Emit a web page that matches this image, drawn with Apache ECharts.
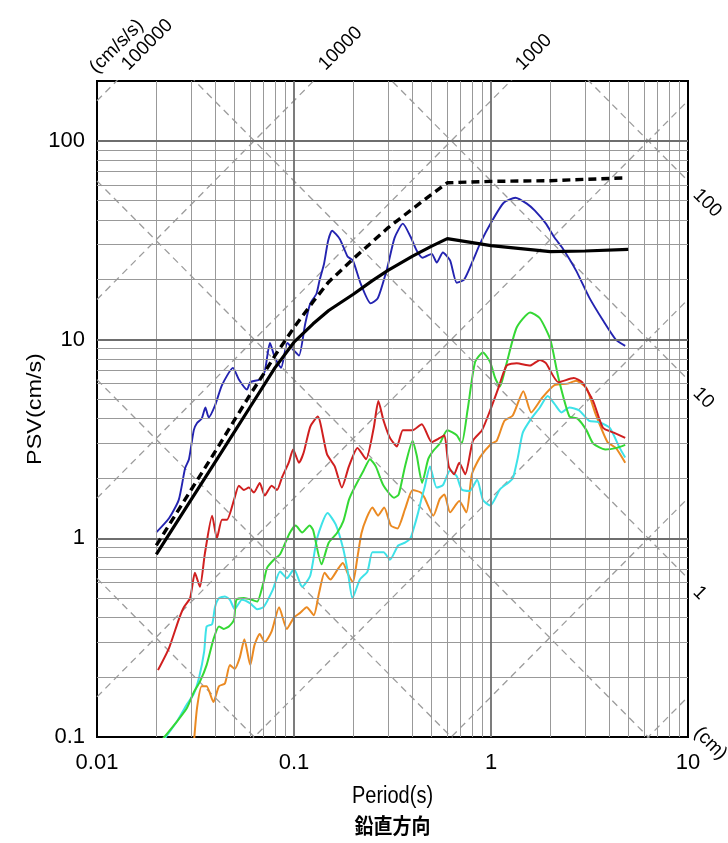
<!DOCTYPE html>
<html><head><meta charset="utf-8">
<script src="https://cdn.jsdelivr.net/npm/echarts@6/dist/echarts.min.js"></script>
<style>html,body{margin:0;padding:0;background:#fff}#c{width:728px;height:843px}</style>
</head><body><div id="c"></div><script>
// ---- axis ranges / tick labels ----
const periodRange = [0.01, 10];
const psvRange = [0.1, 200];
const xTickLabels = [0.01, 0.1, 1, 10];
const yTickLabels = [0.1, 1, 10, 100];
// tripartite reference lines
const dispLines = [0.001, 0.01, 0.1, 1, 10, 100];          // cm
const accLines = [0.1, 1, 10, 100, 1000, 10000, 100000];     // cm/s/s
const accLabels = [100000, 10000, 1000];
const dispLabels = [100, 10, 1];

// ---- series [period(s), PSV(cm/s)] ----
const designL2 = [[0.02,0.92],[0.03,1.75],[0.04,2.75],[0.05,3.95],[0.06,5.3],[0.07,6.7],[0.08,8.3],[0.1,11.5],[0.125,15.5],[0.15,19.5],[0.2,25.5],[0.3,36.5],[0.4,45.5],[0.5,53.8],[0.6,61.5],[1,62.5],[2,63],[3,64],[4.7,65]];
const designL1 = [[0.02,0.83],[0.03,1.56],[0.04,2.44],[0.05,3.45],[0.06,4.59],[0.08,7.2],[0.1,9.7],[0.125,12],[0.15,14],[0.2,16.9],[0.25,19.8],[0.3,22.3],[0.4,26.3],[0.5,29.5],[0.6,32.2],[1,29.7],[2,27.7],[3,27.9],[4.97,28.4]];
const blue = [[0.02,1.07],[0.0232,1.26],[0.026,1.56],[0.028,2.25],[0.0293,2.5],[0.031,3.5],[0.0322,3.8],[0.034,4.0],[0.0355,4.55],[0.0369,4.06],[0.0397,4.65],[0.0431,5.9],[0.049,7.2],[0.0525,6.3],[0.0577,5.6],[0.06,6.1],[0.067,6.3],[0.071,6.9],[0.0755,9.6],[0.08,8.1],[0.086,7.2],[0.0925,9.6],[0.1,8.8],[0.106,8.3],[0.114,12],[0.121,15.2],[0.13,17.0],[0.135,20],[0.142,24],[0.149,31.4],[0.156,35.3],[0.171,32],[0.187,26.2],[0.199,25],[0.218,19.1],[0.245,15.2],[0.266,16.1],[0.297,22.8],[0.324,32.5],[0.357,38.3],[0.39,33],[0.42,28],[0.45,25.8],[0.5,27],[0.53,24.4],[0.57,27.4],[0.62,25],[0.67,19.3],[0.73,20],[0.81,25],[0.88,30.4],[1.0,38.7],[1.16,48.8],[1.33,51.7],[1.52,48.3],[1.67,44.5],[1.9,38.3],[2.1,32.6],[2.3,29],[2.7,22.3],[3.15,16.3],[3.7,12.5],[4.3,10],[4.8,9.3]];
const red = [[0.0204,0.217],[0.0232,0.28],[0.026,0.39],[0.0276,0.45],[0.0297,0.5],[0.0314,0.67],[0.0333,0.57],[0.0353,0.84],[0.0384,1.3],[0.0406,1.0],[0.0431,1.24],[0.0457,1.24],[0.0496,1.56],[0.0525,1.84],[0.0557,1.75],[0.059,1.8],[0.0626,1.7],[0.067,1.9],[0.071,1.64],[0.077,1.84],[0.082,1.75],[0.087,2.03],[0.094,2.4],[0.099,2.8],[0.106,2.4],[0.112,2.7],[0.121,3.65],[0.132,4.1],[0.147,2.65],[0.161,2.3],[0.175,1.8],[0.19,2.3],[0.21,2.85],[0.232,2.5],[0.254,3.6],[0.268,4.9],[0.285,3.9],[0.307,3.2],[0.333,2.9],[0.357,3.5],[0.4,3.5],[0.445,3.75],[0.5,3.05],[0.55,3.2],[0.58,3.3],[0.61,2.3],[0.65,2.1],[0.69,2.4],[0.74,2.1],[0.81,3.1],[0.9,3.5],[0.99,4.4],[1.09,5.7],[1.2,7.4],[1.35,7.6],[1.58,7.4],[1.77,7.9],[1.9,7.6],[2.2,6.1],[2.63,6.4],[2.9,6.1],[3.3,4.9],[3.7,3.6],[4.2,3.4],[4.8,3.2]];
const green = [[0.0205,0.092],[0.0255,0.12],[0.0286,0.14],[0.031,0.168],[0.0333,0.19],[0.036,0.23],[0.039,0.31],[0.0416,0.36],[0.044,0.35],[0.0467,0.36],[0.0496,0.39],[0.051,0.49],[0.0557,0.5],[0.061,0.49],[0.065,0.48],[0.07,0.6],[0.073,0.71],[0.079,0.78],[0.085,0.83],[0.095,1.06],[0.102,1.16],[0.11,1.07],[0.12,1.16],[0.125,1.1],[0.138,0.74],[0.15,0.95],[0.165,1.06],[0.178,1.22],[0.19,1.56],[0.2,1.75],[0.226,2.2],[0.243,2.5],[0.26,2.3],[0.284,1.85],[0.322,1.6],[0.34,1.66],[0.366,2.3],[0.4,3.1],[0.42,2.6],[0.447,1.9],[0.48,2.5],[0.51,2.76],[0.55,3.0],[0.6,3.5],[0.67,3.3],[0.71,3.0],[0.76,4.4],[0.83,7.7],[0.91,8.6],[0.99,7.7],[1.05,6.4],[1.11,5.8],[1.2,7.6],[1.35,11.5],[1.58,13.7],[1.77,12.8],[2.0,10],[2.2,6.4],[2.5,4.1],[2.75,4.0],[3.05,3.5],[3.3,3.0],[3.8,2.8],[4.35,2.85],[4.8,2.95]];
const cyan = [[0.021,0.092],[0.0255,0.12],[0.0286,0.146],[0.031,0.165],[0.033,0.2],[0.035,0.27],[0.036,0.36],[0.0384,0.37],[0.0397,0.45],[0.0416,0.5],[0.0446,0.51],[0.0473,0.49],[0.05,0.44],[0.0544,0.49],[0.06,0.47],[0.065,0.44],[0.07,0.45],[0.078,0.55],[0.085,0.68],[0.092,0.63],[0.1,0.7],[0.11,0.57],[0.121,0.65],[0.131,1.0],[0.148,1.34],[0.163,1.17],[0.178,0.88],[0.188,0.67],[0.198,0.5],[0.216,0.62],[0.236,0.68],[0.25,0.85],[0.27,0.85],[0.285,0.85],[0.307,0.78],[0.338,0.92],[0.366,0.95],[0.39,1.0],[0.403,1.1],[0.427,1.35],[0.445,1.6],[0.46,1.8],[0.49,2.3],[0.53,1.8],[0.57,1.85],[0.62,2.2],[0.67,2.05],[0.71,1.76],[0.78,1.73],[0.85,1.97],[0.91,1.56],[0.99,1.46],[1.11,1.76],[1.22,1.9],[1.29,2.0],[1.37,2.56],[1.45,3.4],[1.6,4.0],[1.77,4.55],[1.94,5.2],[2.1,4.75],[2.28,4.3],[2.5,4.55],[2.8,4.4],[3.15,3.9],[3.5,3.85],[4.0,3.6],[4.5,2.85],[4.8,2.55]];
const orange = [[0.031,0.092],[0.0322,0.14],[0.034,0.18],[0.036,0.18],[0.039,0.15],[0.0416,0.18],[0.0446,0.186],[0.0473,0.23],[0.05,0.22],[0.053,0.25],[0.056,0.31],[0.06,0.23],[0.063,0.29],[0.067,0.33],[0.071,0.3],[0.077,0.34],[0.084,0.45],[0.092,0.35],[0.1,0.4],[0.107,0.42],[0.116,0.45],[0.126,0.41],[0.134,0.53],[0.143,0.67],[0.153,0.62],[0.167,0.7],[0.177,0.75],[0.188,0.66],[0.199,0.6],[0.209,0.78],[0.22,1.06],[0.234,1.27],[0.25,1.43],[0.267,1.3],[0.287,1.43],[0.31,1.16],[0.335,1.12],[0.366,1.4],[0.4,1.75],[0.44,1.7],[0.46,1.6],[0.51,1.3],[0.55,1.58],[0.58,1.66],[0.62,1.35],[0.69,1.54],[0.75,1.35],[0.8,2.1],[0.88,2.56],[1.0,2.98],[1.07,3.1],[1.17,3.9],[1.29,4.15],[1.46,5.5],[1.6,4.3],[1.82,5.1],[2.1,5.9],[2.45,6.0],[2.7,6.2],[3.05,5.7],[3.4,4.2],[3.9,3.05],[4.3,2.85],[4.8,2.4]];

// ---- grid line positions (log decades with 2..9 subdivisions) ----
function subdivisions(lo, hi) {
  const minor = [], major = [];
  for (let e = Math.round(Math.log10(lo)); Math.pow(10, e) < hi; e++) {
    for (let m = 1; m <= 9; m++) {
      const v = +(m * Math.pow(10, e)).toPrecision(6);
      if (v <= lo || v >= hi) continue;
      (m === 1 ? major : minor).push(v);
    }
  }
  return { minor, major };
}
const gx = subdivisions(periodRange[0], periodRange[1]);
const gy = subdivisions(psvRange[0], psvRange[1]);

const FONT = '"Liberation Sans", Arial, sans-serif';
const TWO_PI = 2 * Math.PI;

function decadeLabel(v) {
  const l = Math.log10(v);
  if (Math.abs(l - Math.round(l)) > 1e-6) return '';
  return String(+v.toPrecision(6));
}

const chart = echarts.init(document.getElementById('c'), null, { renderer: 'canvas' });

const series = [];
// grid lines
series.push({
  type: 'line', data: [], z: 1, silent: true, animation: false,
  markLine: {
    silent: true, animation: false, symbol: ['none', 'none'], label: { show: false },
    lineStyle: { color: '#999999', width: 1, type: 'solid' },
    emphasis: { disabled: true },
    data: [
      ...gx.minor.map(v => ({ xAxis: v })),
      ...gy.minor.map(v => ({ yAxis: v })),
      ...gx.major.map(v => ({ xAxis: v, lineStyle: { color: '#6e6e6e', width: 1.8 } })),
      ...gy.major.map(v => ({ yAxis: v, lineStyle: { color: '#6e6e6e', width: 1.8 } }))
    ]
  }
});
// constant displacement lines: PSV = 2*pi*SD/T
dispLines.forEach(sd => series.push({
  type: 'line', z: 2, silent: true, animation: false, symbol: 'none', clip: true,
  lineStyle: { color: '#9c9c9c', width: 1.3, type: [7, 5] },
  data: periodRange.map(t => [t, TWO_PI * sd / t])
}));
// constant acceleration lines: PSV = PSA*T/(2*pi)
accLines.forEach(sa => series.push({
  type: 'line', z: 2, silent: true, animation: false, symbol: 'none', clip: true,
  lineStyle: { color: '#9c9c9c', width: 1.3, type: [7, 5] },
  data: periodRange.map(t => [t, sa * t / TWO_PI])
}));
function dataLine(d, color, w, z, extra) {
  return Object.assign({
    type: 'line', data: d, z: z, symbol: 'none', showSymbol: false, animation: false, clip: true,
    smooth: 0.2, lineStyle: { color: color, width: w }
  }, extra || {});
}
series.push(dataLine(blue, '#2323b0', 1.9, 3));
series.push(dataLine(orange, '#eb8a22', 2, 4));
series.push(dataLine(cyan, '#3ee2e8', 2, 4));
series.push(dataLine(green, '#35d835', 2, 4));
series.push(dataLine(red, '#d01f1f', 2, 4));
series.push(dataLine(designL1, '#000', 3.2, 5, { smooth: false }));
series.push(dataLine(designL2, '#000', 3.2, 5, { smooth: false, lineStyle: { color: '#000', width: 3.4, type: [8, 5] } }));

chart.setOption({
  animation: false,
  backgroundColor: '#fff',
  grid: { left: 97, right: 40, top: 81, bottom: 106, show: true, borderColor: '#000', borderWidth: 2, backgroundColor: 'transparent' },
  xAxis: {
    type: 'log', logBase: 10, min: periodRange[0], max: periodRange[1],
    axisLine: { show: false }, axisTick: { show: false }, splitLine: { show: false },
    axisLabel: { formatter: decadeLabel, fontSize: 22, color: '#000', fontFamily: FONT, margin: 15 }
  },
  yAxis: {
    type: 'log', logBase: 10, min: psvRange[0], max: psvRange[1],
    axisLine: { show: false }, axisTick: { show: false }, splitLine: { show: false },
    axisLabel: { formatter: decadeLabel, fontSize: 22, color: '#000', fontFamily: FONT, margin: 12 }
  },
  series: series
});

// ---- texts placed through the chart's own coordinate conversion ----
const px = (t, v) => chart.convertToPixel({ gridIndex: 0 }, [t, v]);
const graphics = [];
function txt(x, y, text, size, rot, align, valign, extra, elExtra) {
  graphics.push(Object.assign({
    type: 'text', x: x, y: y, rotation: rot || 0, silent: true, z: 10,
    style: Object.assign({
      text: text, fill: '#000', font: size + 'px ' + FONT, fontSize: size, fontFamily: FONT,
      align: align, textAlign: align, verticalAlign: valign, textVerticalAlign: valign
    }, extra || {})
  }, elExtra || {}));
}
accLabels.forEach((sa, i) => {
  const p = px(TWO_PI * psvRange[1] / sa, psvRange[1]);
  txt(p[0] + 15, p[1] - 7, String(sa), 19, Math.PI / 4, 'left', 'bottom');
  if (i === 0) txt(p[0] - 17, p[1] - 4, '(cm/s/s)', 19, Math.PI / 4, 'left', 'bottom');
});
dispLabels.forEach(sd => {
  const p = px(periodRange[1], TWO_PI * sd / periodRange[1]);
  txt(p[0] + 8, p[1] + 11, String(sd), 19, -Math.PI / 4, 'left', 'middle');
});
const corner = px(periodRange[1], psvRange[0]);
txt(corner[0] + 9, corner[1] - 7, '(cm)', 19, -Math.PI / 4, 'left', 'middle');
const bl = px(periodRange[0], psvRange[0]);
const tr = px(periodRange[1], psvRange[1]);
const cx = (bl[0] + tr[0]) / 2, cy = (bl[1] + tr[1]) / 2;
txt(cx, 797, 'Period(s)', 20, 0, 'center', 'middle', null, { scaleY: 1.15, originX: 0, originY: 0 });
txt(cx, 825, '鉛直方向', 19, 0, 'center', 'middle', { font: 'bold 19px "Noto Sans CJK JP", sans-serif', fontWeight: 'bold', fontFamily: '"Noto Sans CJK JP"' }, { scaleY: 1.1 });
txt(35, cy, 'PSV(cm/s)', 20, Math.PI / 2, 'center', 'middle', null, { scaleX: 1.17 });
chart.setOption({ graphic: graphics });
</script></body></html>
